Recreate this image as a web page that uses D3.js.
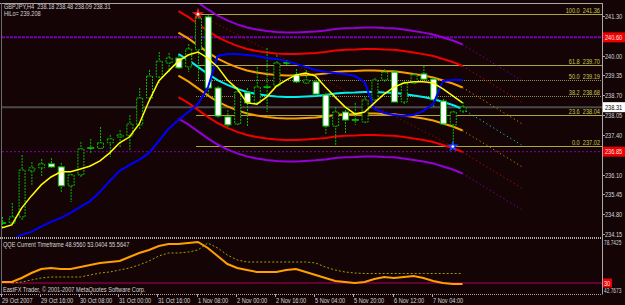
<!DOCTYPE html>
<html><head><meta charset="utf-8">
<script src="https://cdn.jsdelivr.net/npm/d3@7"></script>
<style>html,body{margin:0;padding:0;background:#150406;overflow:hidden}</style>
</head><body><svg id="c" width="625" height="305"></svg>
<script>
// ---------------- DATA ----------------
const barTimes = ["29 Oct 00:00","29 Oct 04:00","29 Oct 08:00","29 Oct 12:00","29 Oct 16:00","29 Oct 20:00",
  "30 Oct 00:00","30 Oct 04:00","30 Oct 08:00","30 Oct 12:00","30 Oct 16:00","30 Oct 20:00",
  "31 Oct 00:00","31 Oct 04:00","31 Oct 08:00","31 Oct 12:00","31 Oct 16:00","31 Oct 20:00",
  "1 Nov 00:00","1 Nov 04:00","1 Nov 08:00","1 Nov 12:00","1 Nov 16:00","1 Nov 20:00",
  "2 Nov 00:00","2 Nov 04:00","2 Nov 08:00","2 Nov 12:00","2 Nov 16:00","2 Nov 20:00",
  "4 Nov 20:00","5 Nov 00:00","5 Nov 04:00","5 Nov 08:00","5 Nov 12:00","5 Nov 16:00",
  "5 Nov 20:00","6 Nov 00:00","6 Nov 04:00","6 Nov 08:00","6 Nov 12:00","6 Nov 16:00",
  "6 Nov 20:00","7 Nov 00:00","7 Nov 04:00","7 Nov 08:00","7 Nov 12:00","7 Nov 16:00"];
const open  = [234.48,234.51,234.71,236.22,236.32,236.45,236.35,235.73,236.09,236.97,236.96,237.14,237.33,237.37,237.73,238.61,239.30,239.76,239.92,239.63,240.19,241.27,238.94,237.99,237.76,238.78,238.45,238.97,239.00,239.76,239.37,239.10,239.14,238.71,237.69,238.15,237.89,237.82,238.55,239.20,239.46,238.48,239.10,239.40,239.23,238.51,237.73,238.18];
const high  = [234.71,235.17,236.74,236.51,236.61,236.64,236.48,236.12,237.17,237.27,237.66,237.40,237.56,238.05,238.94,239.53,240.12,240.09,240.02,240.38,241.36,241.33,239.00,238.22,238.97,238.94,239.63,240.25,240.02,239.86,239.56,239.53,239.30,238.78,238.32,238.22,238.45,238.64,239.27,239.56,239.53,239.17,239.43,239.66,239.27,238.58,238.19,238.48];
const low   = [234.35,234.48,234.61,235.76,236.02,236.32,235.53,235.20,236.02,236.81,236.94,236.68,236.97,236.91,237.56,238.55,239.10,239.46,239.53,239.46,239.20,238.71,237.96,237.66,237.69,237.66,238.35,238.15,238.94,239.66,239.07,239.04,238.68,237.40,237.07,237.46,237.73,237.76,238.48,239.14,238.45,238.41,239.04,239.20,238.32,237.69,237.02,238.09];
const close = [234.51,234.71,236.25,236.32,236.45,236.35,235.73,236.09,236.94,236.96,237.14,237.27,237.40,237.76,238.61,239.33,239.82,239.92,239.60,240.22,241.23,238.94,238.02,237.73,238.81,238.45,238.97,238.96,239.76,239.74,239.14,239.20,238.74,237.69,238.15,237.89,237.87,238.55,239.20,239.46,238.48,239.10,239.37,239.23,238.55,237.76,238.15,238.31];
// yellow fast MA
const maFast = [234.35,234.45,235.00,235.40,235.76,236.02,236.19,236.19,236.28,236.38,236.55,236.81,237.14,237.33,237.76,238.51,239.17,239.50,239.82,240.02,240.12,239.92,239.63,239.20,238.91,238.45,238.41,238.64,239.00,239.20,239.37,239.43,239.33,238.97,238.64,238.32,238.09,238.15,238.45,238.74,238.97,239.10,239.14,239.14,239.10,238.91,238.68,238.45];
// blue slow MA
const maSlow = [null,233.96,234.12,234.22,234.39,234.55,234.68,234.84,235.04,235.23,235.53,235.89,236.22,236.41,236.58,236.81,237.20,237.60,237.89,238.15,238.41,238.94,239.99,240.05,240.05,240.02,239.99,239.92,239.89,239.82,239.73,239.63,239.53,239.46,239.43,239.40,239.33,239.14,238.25,238.12,238.05,238.02,238.05,238.19,238.41,239.17,239.20,239.20];
// regression channel centre (bars 18..47 fitted, 48..53 projected)
const regStartBar = 18;
const regLastFitBar = 47;
const regCenter = [240.05,239.86,239.63,239.40,239.20,239.04,238.91,238.81,238.74,238.69,238.66,238.64,238.64,238.66,238.68,238.71,238.76,238.78,238.79,238.81,238.81,238.79,238.78,238.74,238.69,238.64,238.58,238.48,238.38,238.25,238.05,237.86,237.66,237.46,237.27,237.07];
const regStd = 0.705;
const bandMult = [1, 2, 3];
// QQE sub window
const qqeMain   = [31.1,31.1,35.7,41.3,45.9,47.0,45.9,45.9,48.1,50.4,52.7,53.8,54.9,59.5,64.0,67.4,71.9,74.2,74.2,75.3,76.5,69.7,60.6,51.5,47.0,44.7,42.5,42.5,42.5,44.7,45.9,42.5,39.1,35.7,32.3,31.1,30.0,31.1,34.5,36.8,35.7,36.8,37.9,35.7,32.3,30.0,28.9,28.9];
const qqeSignal = [null,30.0,31.1,33.4,35.7,36.8,36.8,36.8,36.8,39.1,41.3,42.5,44.7,47.0,50.4,54.9,60.6,64.0,64.0,65.1,67.4,75.3,69.7,61.7,56.1,53.8,53.8,53.8,53.8,53.8,53.8,53.8,52.7,48.1,44.7,42.5,41.3,40.8,40.8,40.8,40.8,40.8,40.8,40.8,40.8,40.8,40.8,40.8];
const qqeLevel = 30;
// axes
const priceTicks = [241.30,240.00,239.35,238.70,238.05,237.40,236.10,235.45,234.80,234.15];
const timeTickBars = [0,4,8,12,16,20,24,28,32,36,40,44];
const timeTickLabels = ["29 Oct 2007","29 Oct 16:00","30 Oct 08:00","31 Oct 00:00","31 Oct 16:00","1 Nov 08:00","2 Nov 00:00","2 Nov 16:00","5 Nov 04:00","5 Nov 20:00","6 Nov 12:00","7 Nov 04:00"];
// fibonacci object
const fibLevels = [100.0, 61.8, 50.0, 38.2, 23.6, 0.0];
const fibHigh = 241.36, fibHighBar = 20;
const fibLow = 237.02, fibLowBar = 46;
// HiLo lines and bid
const hiloLevels = [240.60, 236.85];
const hiloLabels = ["240.60", "236.85"];
const bid = 238.31;

// ---------------- LAYOUT ----------------
const W = 625, H = 305, BG = "#150406";
const L = 2, R = 602, mainTop = 3, mainBottom = 237, subTop = 238, subBottom = 294;
const FONT = '"Liberation Sans", Arial, sans-serif';
const svg = d3.select("#c");
svg.append("rect").attr("width", W).attr("height", H).attr("fill", BG);

const xB = d3.scaleLinear().domain([0, 1]).range([2, 11.8]);
const yP = d3.scaleLinear().domain([234.15, 241.30]).range([234, 16]);
const yQ = d3.scaleLinear().domain([30, 78.7425]).range([283, 240]);

const defs = svg.append("defs");
defs.append("clipPath").attr("id", "cm").append("rect").attr("x", L).attr("y", mainTop + 1).attr("width", R - L).attr("height", mainBottom - mainTop - 1);
defs.append("clipPath").attr("id", "cs").append("rect").attr("x", L).attr("y", subTop + 1).attr("width", R - L).attr("height", subBottom - subTop - 1);

function label(g, x, y, s, o = {}) {
  return g.append("text")
    .attr("transform", `translate(${x},${y}) scale(${o.sx || 0.75},1)`)
    .attr("font-family", FONT).attr("font-size", o.size || 7.5)
    .attr("fill", o.fill || "#d4d4d4").attr("text-anchor", o.anchor || "start")
    .style("white-space", "pre").text(s);
}

const main = svg.append("g").attr("clip-path", "url(#cm)");
const sub = svg.append("g").attr("clip-path", "url(#cs)");

// horizontal HiLo lines
main.append("line").attr("x1", L).attr("x2", R).attr("y1", yP(hiloLevels[0])).attr("y2", yP(hiloLevels[0]))
  .attr("stroke", "#7000b4").attr("stroke-width", 2).attr("stroke-dasharray", "3,1");
main.append("line").attr("x1", L).attr("x2", R).attr("y1", yP(hiloLevels[1])).attr("y2", yP(hiloLevels[1]))
  .attr("stroke", "#8000a8").attr("stroke-width", 1).attr("stroke-dasharray", "2,2");
// bid line
main.append("line").attr("x1", L).attr("x2", R).attr("y1", yP(bid)).attr("y2", yP(bid))
  .attr("stroke", "#4a4a4a").attr("stroke-width", 2);

// fib lines
const fibG = main.append("g");
fibLevels.forEach(l => {
  const p = fibLow + (fibHigh - fibLow) * l / 100;
  const y = Math.round(yP(p)) + 0.5;
  const dotted = (l === 50 || l === 38.2);
  fibG.append("line").attr("x1", xB(fibHighBar) - 2).attr("x2", R).attr("y1", y).attr("y2", y)
    .attr("stroke", dotted ? "#8c8c50" : "#aaa83c").attr("stroke-width", 1)
    .attr("stroke-dasharray", dotted ? "1,1" : null);
  label(fibG, 600, y - 2, l.toFixed(1) + "  " + p.toFixed(2), { anchor: "end", fill: "#c8c850" });
});
// fib trend line
main.append("line").attr("x1", xB(fibHighBar)).attr("y1", yP(fibHigh)).attr("x2", xB(fibLowBar)).attr("y2", yP(fibLow))
  .attr("stroke", "#c00000").attr("stroke-width", 1).attr("stroke-dasharray", "1,3");

// regression channel
const bandColors = ["#f5a000", "#f00000", "#9400d8"];
function chanSeries(mult) {
  return regCenter.map((c, j) => ({ i: regStartBar + j, v: c + mult * regStd }));
}
const lineP = d3.line().x(d => xB(d.i)).y(d => yP(d.v));
function drawChan(mult, color, w) {
  const s = chanSeries(mult);
  const fit = s.filter(d => d.i <= regLastFitBar);
  const proj = s.filter(d => d.i >= regLastFitBar);
  main.append("path").attr("d", lineP(fit)).attr("fill", "none").attr("stroke", color).attr("stroke-width", w);
  main.append("path").attr("d", lineP(proj)).attr("fill", "none").attr("stroke", color).attr("stroke-width", 1).attr("stroke-dasharray", "1,3");
}
bandMult.forEach((m, k) => { drawChan(m, bandColors[k], 2); drawChan(-m, bandColors[k], 2); });
drawChan(0, "#00f0f0", 2);

// candles
const cg = main.append("g");
const idx = d3.range(open.length);
cg.selectAll("line.w").data(idx).join("line")
  .attr("x1", i => xB(i) + 0.5).attr("x2", i => xB(i) + 0.5)
  .attr("y1", i => yP(high[i])).attr("y2", i => yP(low[i]))
  .attr("stroke", "#00c000").attr("stroke-width", 1).attr("stroke-dasharray", "2,1");
idx.forEach(i => {
  const yo = yP(open[i]), yc = yP(close[i]);
  const top = Math.min(yo, yc), h = Math.abs(yo - yc);
  const x = xB(i);
  if (h < 1.2) {
    cg.append("line").attr("x1", x - 3).attr("x2", x + 4).attr("y1", top).attr("y2", top)
      .attr("stroke", "#00e000").attr("stroke-width", 1.5);
  } else if (close[i] >= open[i]) {
    cg.append("rect").attr("x", x - 2.5).attr("y", top).attr("width", 6).attr("height", h)
      .attr("fill", BG).attr("stroke", "#00c000").attr("stroke-width", 1).attr("stroke-dasharray", "2,1");
  } else {
    cg.append("rect").attr("x", x - 2.5).attr("y", top).attr("width", 6).attr("height", h)
      .attr("fill", "#ffffff").attr("stroke", "#00c000").attr("stroke-width", 1);
  }
});

// moving averages
const maLine = d3.line().defined(d => d != null).x((d, i) => xB(i)).y(d => yP(d));
main.append("path").attr("d", maLine(maSlow)).attr("fill", "none").attr("stroke", "#0000ff").attr("stroke-width", 2);
main.append("path").attr("d", maLine(maFast)).attr("fill", "none").attr("stroke", "#ffff00").attr("stroke-width", 1.5);

// hi / lo markers
const star = d3.symbol(d3.symbolStar, 45);
[[fibHighBar, fibHigh, "#ff2020"], [fibLowBar, fibLow, "#2040ff"]].forEach(([b, p, c]) => {
  main.append("path").attr("d", star()).attr("transform", `translate(${xB(b)},${yP(p)})`).attr("fill", c);
  main.append("circle").attr("cx", xB(b)).attr("cy", yP(p)).attr("r", 1.3).attr("fill", "#ffffff");
});

// texts in main pane
label(svg, 4, 8.5, "GBPJPY,H4  238.18 238.48 238.09 238.31");
label(svg, 4, 16, "HiLo= 239.208");

// QQE sub window
sub.append("line").attr("x1", L).attr("x2", R).attr("y1", yQ(qqeLevel)).attr("y2", yQ(qqeLevel))
  .attr("stroke", "#b0005a").attr("stroke-width", 1);
const qLine = d3.line().defined(d => d != null).x((d, i) => xB(i)).y(d => yQ(d));
sub.append("path").attr("d", qLine(qqeSignal)).attr("fill", "none").attr("stroke", "#a0a000").attr("stroke-width", 1).attr("stroke-dasharray", "2,2");
sub.append("path").attr("d", qLine(qqeMain)).attr("fill", "none").attr("stroke", "#ffa000").attr("stroke-width", 2);
label(svg, 3, 247, "QQE Current Timeframe 48.9560 53.0404 55.5647");
label(svg, 3, 292, "EastFX Trader, © 2001-2007 MetaQuotes Software Corp.");

// borders
const bc = "#a8a8a8";
svg.append("line").attr("x1", 0).attr("x2", R).attr("y1", mainTop + 0.5).attr("y2", mainTop + 0.5).attr("stroke", bc);
svg.append("line").attr("x1", 1.5).attr("x2", 1.5).attr("y1", mainTop).attr("y2", subBottom).attr("stroke", "#6a6a6a");
svg.append("line").attr("x1", R + 0.5).attr("x2", R + 0.5).attr("y1", mainTop).attr("y2", subBottom + 0.5).attr("stroke", bc);
svg.append("line").attr("x1", 0).attr("x2", R).attr("y1", mainBottom + 1).attr("y2", mainBottom + 1).attr("stroke", bc).attr("stroke-width", 2).attr("stroke-dasharray", "1,1");
svg.append("line").attr("x1", 0).attr("x2", R).attr("y1", subBottom + 0.5).attr("y2", subBottom + 0.5).attr("stroke", bc).attr("stroke-dasharray", "1,1");

// price axis
const ax = svg.append("g");
priceTicks.forEach(p => {
  const y = Math.round(yP(p)) + 0.5;
  ax.append("line").attr("x1", R).attr("x2", R + 3).attr("y1", y).attr("y2", y).attr("stroke", bc);
  label(ax, 605, y + 2.5, p.toFixed(2));
});
// special labels
hiloLevels.forEach((p, k) => {
  const y = yP(p);
  ax.append("rect").attr("x", R + 1).attr("y", y - 5).attr("width", 22).attr("height", 10).attr("fill", "#ee0000");
  label(ax, 605, y + 2.5, hiloLabels[k], { fill: "#ffe0e0" });
});
ax.append("rect").attr("x", R + 1).attr("y", yP(bid) - 5).attr("width", 22).attr("height", 10).attr("fill", "#ffffff");
label(ax, 605, yP(bid) + 2.5, bid.toFixed(2), { fill: "#000000" });
// sub axis labels
label(ax, 604, 245, "78.7425", { sx: 0.64 });
ax.append("rect").attr("x", R + 1).attr("y", yQ(qqeLevel) - 4.5).attr("width", 9).attr("height", 9).attr("fill", "#ee0000");
label(ax, 604, yQ(qqeLevel) + 2.5, String(qqeLevel), { fill: "#ffe0e0" });
label(ax, 604, 293, "42.7673", { sx: 0.64 });

// time axis
timeTickBars.forEach((b, k) => {
  const x = Math.round(xB(b) - 1.5) + 0.5;
  ax.append("line").attr("x1", x).attr("x2", x).attr("y1", subBottom).attr("y2", subBottom + 3).attr("stroke", bc);
  label(ax, x + 0.5, 303, timeTickLabels[k]);
});
</script></body></html>
